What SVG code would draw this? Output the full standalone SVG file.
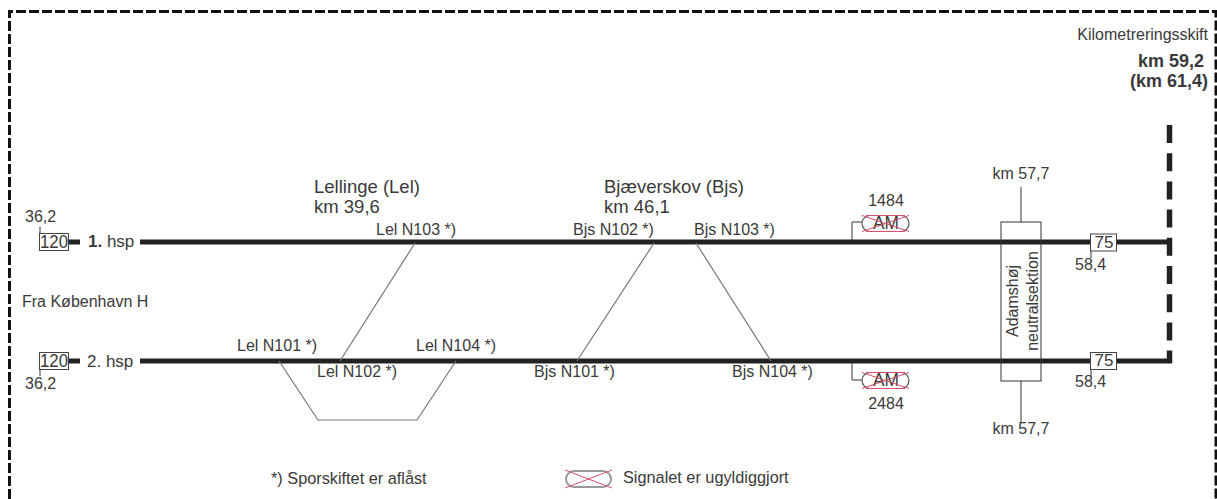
<svg xmlns="http://www.w3.org/2000/svg" width="1217" height="499" viewBox="0 0 1217 499">
<style>
text{font-family:"Liberation Sans",Arial,sans-serif;font-size:16px;fill:#3a3a3a}
.c{text-anchor:middle}
.r{text-anchor:end}
.b{font-weight:bold}
.big{font-size:18.500px}
.kmb{font-size:18px;font-weight:bold}
.lg{font-size:18px}
.hsp{font-size:17px}
.legend{font-size:16.300px}
.track{stroke:#222;stroke-width:5;fill:none}
.dash{stroke:#222;stroke-width:5.500;stroke-dasharray:18 10.200;fill:none}
.thin{stroke:#333;stroke-width:1;fill:none}
.switch{stroke:#777;stroke-width:1.200;fill:none}
.box{stroke:#444;stroke-width:1;fill:#fff}
.x{stroke:#d8506a;stroke-width:1;fill:none}
.sig{stroke:#555;stroke-width:1.200;fill:#fff}
.sigl{stroke:#999;stroke-width:2;fill:#fff}
</style>
<rect width="1217" height="499" fill="#fff"/>
<path d="M9.500 499V11.500H1216V499" fill="none" stroke="#111" stroke-width="3" stroke-dasharray="10 3"/>
<g id="connectors">
<path class="track" d="M68 242H80M140 242H1172"/>
<path class="track" d="M68 361H80M140 361H1172"/>
<path class="dash" d="M1169.500 125V363"/>
<path class="switch" d="M415 243L340 361"/>
<path class="switch" d="M654 243L577 361"/>
<path class="switch" d="M696 243L771 361"/>
<path class="switch" d="M279 361L318 420H417L456 361"/>
<path class="thin" d="M852 242V222H862M852 361V380H862"/>
<path class="thin" d="M1021 187V222M1021 381V422"/>
<path class="thin" d="M40 227V233M40 370V376M1091 251V258M1091 369V376"/>
</g>
<g id="speed-120-1"><rect class="box" x="39.500" y="233.500" width="29" height="17"/><text x="54" y="248" class="c lg" textLength="28" lengthAdjust="spacingAndGlyphs">120</text><text x="25" y="222">36,2</text></g>
<g id="speed-120-2"><rect class="box" x="39.500" y="352.500" width="29" height="17"/><text x="54" y="367" class="c lg" textLength="28" lengthAdjust="spacingAndGlyphs">120</text><text x="25" y="389">36,2</text></g>
<g id="track-labels"><text x="88" y="247" class="hsp"><tspan class="b">1.</tspan> hsp</text><text x="87" y="367" class="hsp">2. hsp</text><text x="22" y="307">Fra København H</text></g>
<g id="station-lel"><text x="314" y="193" class="big">Lellinge (Lel)</text><text x="314" y="213" class="big">km 39,6</text></g>
<g id="station-bjs"><text x="604" y="193" class="big">Bjæverskov (Bjs)</text><text x="604" y="213" class="big">km 46,1</text></g>
<g id="switch-labels">
<text x="376" y="235">Lel N103 *)</text>
<text x="573" y="235">Bjs N102 *)</text>
<text x="694" y="235">Bjs N103 *)</text>
<text x="237" y="351">Lel N101 *)</text>
<text x="317" y="377">Lel N102 *)</text>
<text x="416" y="351">Lel N104 *)</text>
<text x="534" y="377">Bjs N101 *)</text>
<text x="732" y="377">Bjs N104 *)</text>
</g>
<g id="signal-1484">
<text x="886" y="206" class="c">1484</text>
<rect class="sig" x="862" y="215.500" width="47" height="16" rx="8"/>
<text x="886" y="229" class="c lg" textLength="26" lengthAdjust="spacingAndGlyphs">AM</text>
<path class="x" d="M862 215.500L909 231.500M862 231.500L909 215.500M866 215.500H905M866 231.500H905"/>
</g>
<g id="signal-2484">
<text x="886" y="409" class="c">2484</text>
<rect class="sig" x="862" y="372.500" width="47" height="16" rx="8"/>
<text x="886" y="386" class="c lg" textLength="26" lengthAdjust="spacingAndGlyphs">AM</text>
<path class="x" d="M862 372.500L909 388.500M862 388.500L909 372.500M866 372.500H905M866 388.500H905"/>
</g>
<g id="neutral-section">
<rect x="1001" y="222" width="40" height="159" fill="none" stroke="#333" stroke-width="1"/>
<text transform="translate(1018 301) rotate(-90)" class="c">Adamshøj</text>
<text transform="translate(1038 301) rotate(-90)" class="c">neutralsektion</text>
<text x="1021" y="179" class="c">km 57,7</text>
<text x="1021" y="434" class="c">km 57,7</text>
</g>
<g id="speed-75-1"><rect class="box" x="1090.500" y="234" width="26" height="17"/><text x="1104" y="248" class="c hsp">75</text><text x="1075" y="270">58,4</text></g>
<g id="speed-75-2"><rect class="box" x="1090.500" y="352.500" width="26" height="17"/><text x="1104" y="366" class="c hsp">75</text><text x="1075" y="387">58,4</text></g>
<g id="km-change">
<text x="1208" y="40" class="r">Kilometreringsskift</text>
<text x="1204" y="67" class="r kmb">km 59,2</text>
<text x="1208" y="87" class="r kmb">(km 61,4)</text>
</g>
<g id="legend-switch"><text x="271" y="484" class="legend">*)  Sporskiftet er aflåst</text></g>
<g id="legend-signal">
<rect class="sigl" x="566" y="471" width="45" height="16" rx="8"/>
<path class="x" d="M565 470L612 488M565 488L612 470"/>
<text x="623" y="483" class="legend">Signalet er ugyldiggjort</text>
</g>
</svg>
